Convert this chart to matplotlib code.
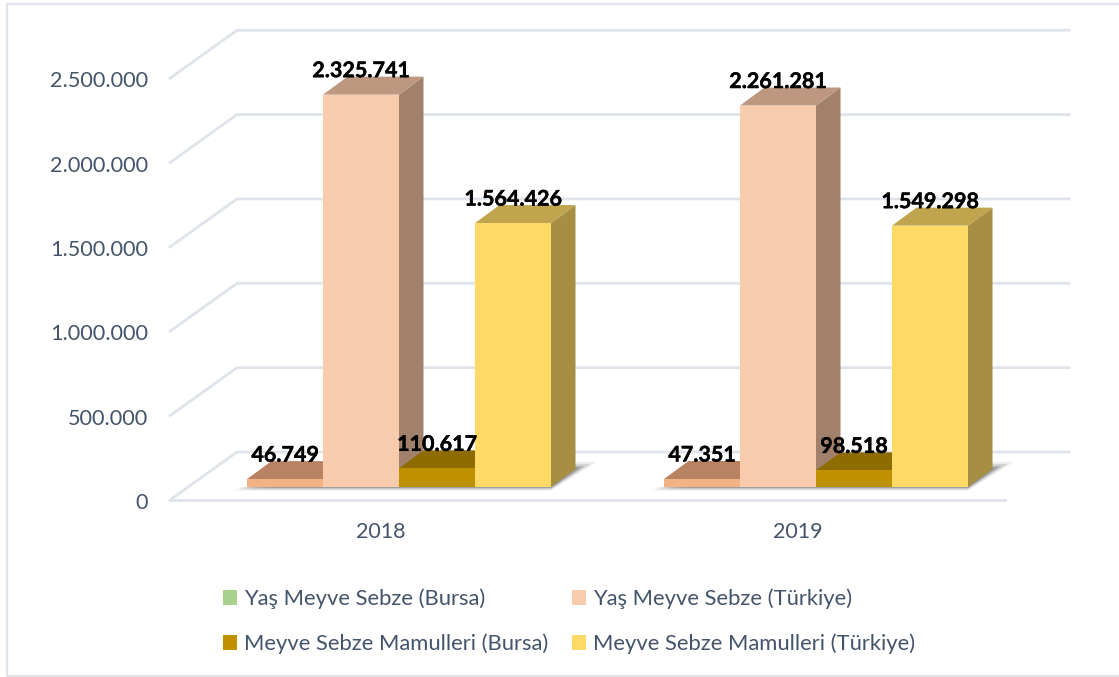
import matplotlib
matplotlib.use('Agg')
from matplotlib import pyplot as plt
from matplotlib import patheffects
from matplotlib.patches import Patch, Rectangle

plt.rcParams['font.family'] = ['Lato', 'DejaVu Sans']

years = ['2018', '2019']
series_names = ['Yaş Meyve Sebze (Bursa)', 'Yaş Meyve Sebze (Türkiye)',
                'Meyve Sebze Mamulleri (Bursa)', 'Meyve Sebze Mamulleri (Türkiye)']
yas_bursa = [46749, 47351]
yas_turkiye = [2325741, 2261281]
mamul_bursa = [110617, 98518]
mamul_turkiye = [1564426, 1549298]
y_ticks = [0, 500000, 1000000, 1500000, 2000000, 2500000]
y_tick_labels = ['0', '500.000', '1.000.000', '1.500.000', '2.000.000', '2.500.000']
data_labels = [['46.749', '47.351'], ['2.325.741', '2.261.281'],
               ['110.617', '98.518'], ['1.564.426', '1.549.298']]

fronts = ['#f4b183', '#f8cbad', '#bf9000', '#ffd966']
tops = ['#b98262', '#bd977f', '#8f6c00', '#c0a44e']
sides = ['#a07a5f', '#a1806c', '#7f6000', '#a68e42']
legend_colors = ['#a9d18e', '#f8cbad', '#bf9000', '#ffd966']
text_color = '#44546a'
grid_color = '#dfe3ea'

W, H = 1119, 677
group_px = 417.0       # distance between the two groups
x0_px = 399.0          # centre of first group
y0_px = 487.0          # base of the bars
val_px = 168.7 / 1e6   # pixels per unit value
bar_w = 76.0 / group_px

# helpers, depth offsets are given in pixels and turned into data units
dx = lambda p: p / group_px
dy = lambda p: p / val_px

fig = plt.figure(figsize=(W / 100, H / 100), dpi=100)
ax = fig.add_axes([0, 0, 1, 1])
ax.set_xlim(-x0_px / group_px, (W - x0_px) / group_px)
ax.set_ylim(-(H - y0_px) / val_px, y0_px / val_px)
ax.axis('off')

# outer frame, open on the right like the reference
ax.plot([1, 7 / W, 7 / W, 1], [1 - 3.5 / H, 1 - 3.5 / H, 1.5 / H, 1.5 / H], transform=ax.transAxes,
        color=grid_color, lw=1.6)

# walls and floor gridlines
x_front = dx(170 - x0_px)
x_back = dx(237 - x0_px)
x_right = dx(1069 - x0_px)
for t, lab in zip(y_ticks, y_tick_labels):
    yf = t - dy(13)
    yb = t + dy(35)
    ax.plot([x_front, x_back, x_right], [yf, yb, yb], color=grid_color, lw=2, zorder=1,
            solid_joinstyle='miter')
    ax.text(x_front - dx(22), yf - dy(3), lab, ha='right', va='center', color=text_color, fontsize=15.6)
# front edge of the floor
ax.plot([x_front, dx(1005 - x0_px)], [-dy(13), -dy(13)], color=grid_color, lw=2, zorder=1)

# bars
all_vals = [yas_bursa, yas_turkiye, mamul_bursa, mamul_turkiye]
depth_x = dx(24.5)
depth_y = dy(18)
for g in range(len(years)):
    left = g - 2 * bar_w
    right = left + 4 * bar_w
    # soft shadow on the floor
    for k, a in zip([7, 5, 3, 1.5], [0.12, 0.2, 0.3, 0.4]):
        ax.fill([left - dx(k + 8), right, right + depth_x + dx(k * 3), right + depth_x],
                [-dy(k / 2), -dy(k / 2), depth_y + dy(k), depth_y + dy(k)],
                color='#6f6f6f', alpha=a, lw=0, zorder=2)
    for s, vals in enumerate(all_vals):
        v = vals[g]
        x1 = left + s * bar_w
        x2 = x1 + bar_w
        z = 3 + s
        ax.fill([x2, x2 + depth_x, x2 + depth_x, x2], [0, depth_y, v + depth_y, v],
                color=sides[s], lw=0, zorder=z)
        ax.fill([x1, x2, x2 + depth_x, x1 + depth_x], [v, v, v + depth_y, v + depth_y],
                color=tops[s], lw=0, zorder=z)
        ax.add_patch(Rectangle((x1, 0), bar_w, v, color=fronts[s], lw=0, zorder=z))
        lbl = ax.annotate(data_labels[s][g], (x1 + bar_w / 2, v), xytext=(0, 24),
                          textcoords='offset pixels', ha='center', va='center',
                          fontsize=15.5, fontweight='bold', color='black', zorder=10)
        lbl.set_path_effects([patheffects.withStroke(linewidth=0.3, foreground='black')])

for g, yr in enumerate(years):
    ax.text(g + dx(-18), dy(487 - 532), yr, ha='center', va='center', color=text_color, fontsize=15.5)

# legend fills columns first, so reorder to get the row layout
order = [0, 2, 1, 3]
handles = [Patch(color=legend_colors[i], lw=0) for i in order]
labels = [series_names[i] for i in order]
ax.legend(handles, labels, ncols=2, loc='upper left', bbox_to_anchor=(0.199, 0.1306),
          bbox_transform=fig.transFigure, frameon=False, fontsize=15.85, labelcolor=text_color,
          handlelength=0.65, handleheight=0.65, handletextpad=0.3, columnspacing=1.1,
          labelspacing=1.12, borderpad=0, borderaxespad=0)

fig.savefig('out.png', dpi=100)
